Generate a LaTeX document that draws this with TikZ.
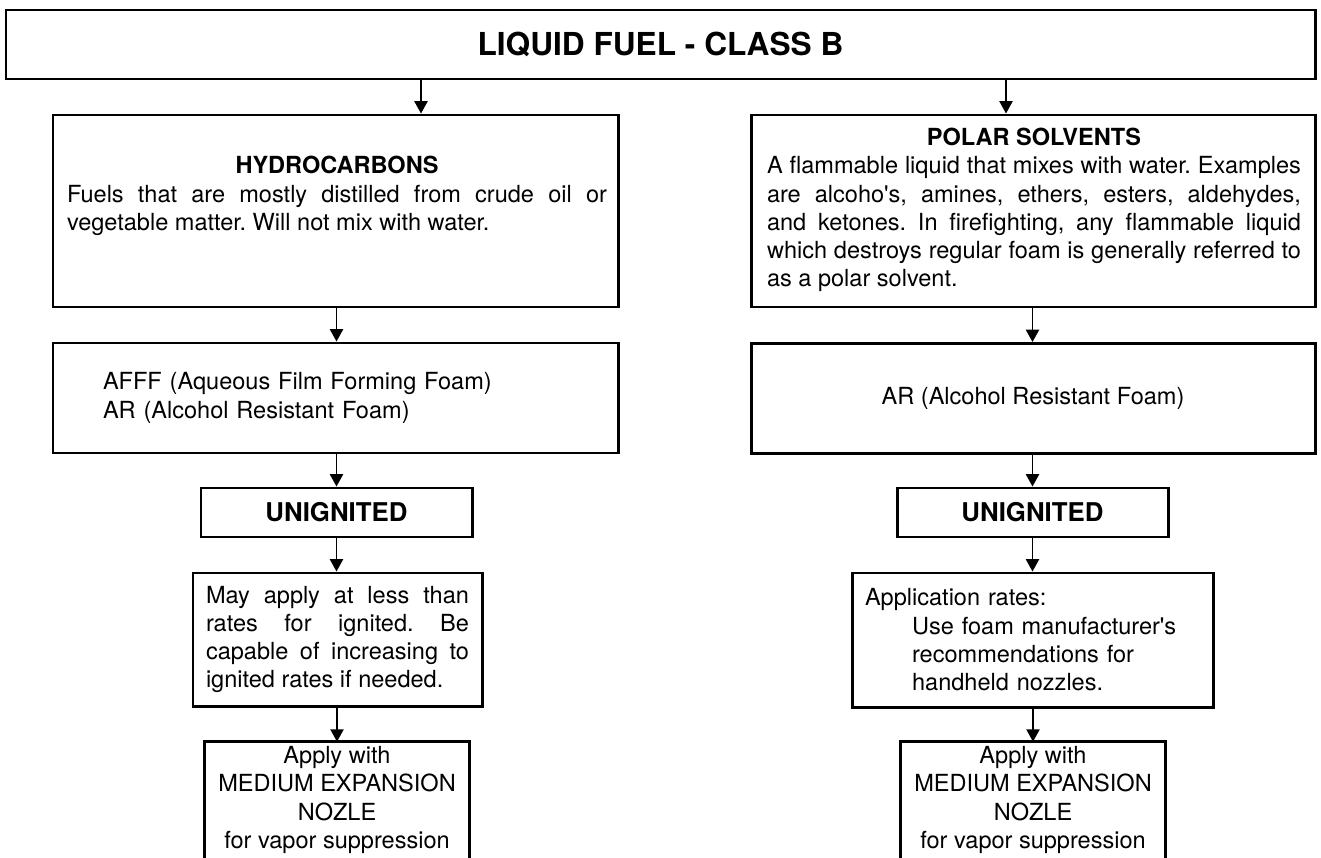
\documentclass[tikz,border=0pt]{standalone}
\usepackage{fontspec}
\setmainfont{TeX Gyre Heros}
\usetikzlibrary{arrows.meta}
\frenchspacing

\begin{document}
\begin{tikzpicture}[x=0.02cm, y=-0.02cm,
        kasten/.style={draw, line width=1.7pt, inner sep=0pt, align=center},
        offen/.style={inner sep=0pt, align=center},
        pfeil/.style={line width=0.85pt, -{Triangle[length=7pt, width=7.5pt]}},
        schrift/.style={font=\fontsize{13.4}{16.1}\selectfont}]
    % Pixelmass (Bild 1321 x 858)
    \def\s{0.02cm}
    \useasboundingbox (0,0) rectangle (1321,858);

    % Kopf
    \node[kasten, minimum width=1309*\s, minimum height=69*\s,
          font=\bfseries\fontsize{18}{21}\selectfont] (kopf) at (660.5,44.5) {LIQUID FUEL - CLASS B};

    % Zweite Reihe
    \node[kasten, minimum width=565*\s, minimum height=192*\s] (kw) at (335.5,211) {};
    \node[schrift, text width=540*\s, align=justify] (kwtext) at (337,196)
        {{\centering\bfseries HYDROCARBONS\par}Fuels that are mostly distilled from crude oil or\linebreak vegetable matter. Will not mix with water.};
    \node[kasten, minimum width=564*\s, minimum height=192*\s] (ps) at (1033,211) {};
    \node[schrift, text width=534*\s, align=justify] (pstext) at (1034,210)
        {{\centering\bfseries POLAR SOLVENTS\par}A flammable liquid that mixes with water. Examples\linebreak are alcoho\textquotesingle s, amines, ethers, esters, aldehydes,\linebreak and ketones. In firefighting, any flammable liquid\linebreak which destroys regular foam is generally referred to\linebreak as a polar solvent.};

    % Pfeile oben
    \coordinate (links) at (421,0);
    \coordinate (rechts) at (1006,0);
    \draw[pfeil] (kopf.south -| links) -- (kw.north -| links);
    \draw[pfeil] (kopf.south -| rechts) -- (ps.north -| rechts);

    % Dritte Reihe
    \node[kasten, schrift, minimum width=565*\s, minimum height=110*\s, text width=465*\s, align=left] (afff) at (335.5,398)
        {AFFF (Aqueous Film Forming Foam)\\AR (Alcohol Resistant Foam)};
    \node[kasten, schrift, minimum width=564*\s, minimum height=110*\s] (ar) at (1033,398.5) {AR (Alcohol Resistant Foam)};

    % UNIGNITED
    \foreach \x/\n in {336.5/1, 1032.5/2} {
        \node[kasten, minimum width=271*\s, minimum height=49*\s,
              font=\bfseries\fontsize{14.7}{17}\selectfont] (ung\n) at (\x,512.5) {UNIGNITED};
    }
    \draw[pfeil] (kw.south -| ung1) -- (afff.north -| ung1);
    \draw[pfeil] (ps.south -| ung2) -- (ar.north -| ung2);
    \draw[pfeil] (afff.south -| ung1) -- (ung1.north);
    \draw[pfeil] (ar.south -| ung2) -- (ung2.north);

    % Anwendung
    \node[kasten, schrift, minimum width=289*\s, minimum height=133*\s, text width=263*\s, align=justify] (anw1) at (337.5,639.5)
        {May apply at less than\linebreak rates for ignited. Be\linebreak capable of increasing to\linebreak ignited rates if needed.};
    \node[kasten, schrift, minimum width=361*\s, minimum height=134*\s, text width=335*\s, align=left] (anw2) at (1032.5,640)
        {Application rates:\\\hspace*{2em}Use foam manufacturer\textquotesingle s\\\hspace*{2em}recommendations for\\\hspace*{2em}handheld nozzles.};
    \draw[pfeil] (ung1.south) -- (ung1.south |- anw1.north);
    \draw[pfeil] (ung2.south) -- (ung2.south |- anw2.north);

    % Unten (nach unten offen)
    \foreach \x/\n in {337/1, 1033/2} {
        \node[offen, schrift, minimum width=265*\s, minimum height=116*\s] (unten\n) at (\x,800)
            {Apply with\\MEDIUM EXPANSION\\NOZLE\\for vapor suppression};
        \draw[line width=1.7pt] (unten\n.south west) -- (unten\n.north west) -- (unten\n.north east) -- (unten\n.south east);
    }
    \draw[pfeil] (anw1.south -| unten1) -- (unten1.north);
    \draw[pfeil] (anw2.south -| unten2) -- (unten2.north);
\end{tikzpicture}
\end{document}
